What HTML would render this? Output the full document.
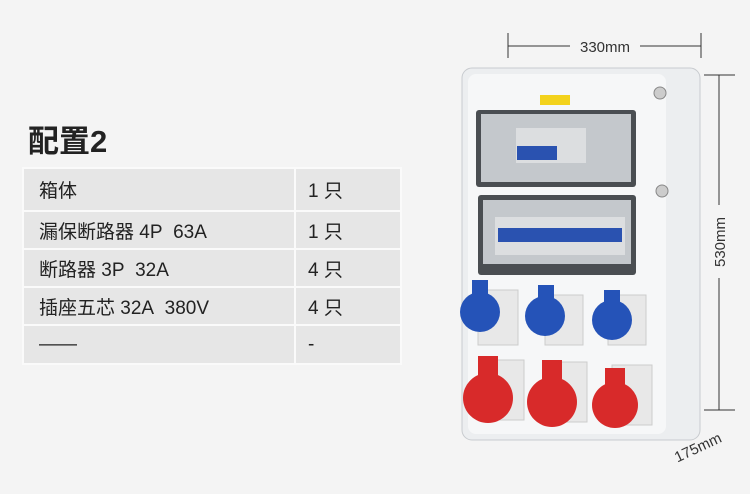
<!DOCTYPE html>
<html><head><meta charset="utf-8"><style>
body{margin:0;width:750px;height:494px;background:#f4f4f4;overflow:hidden;position:relative;font-family:"Liberation Sans","Noto Sans CJK SC",sans-serif;}
.t{position:absolute;left:28px;top:116px;font-size:31px;font-weight:bold;color:#222;}
table{position:absolute;left:22px;top:167px;border-collapse:collapse;}
td{background:#e6e6e6;border:2px solid #fafafa;font-size:19px;color:#222;padding:0 0 0 15px;}
td.b{width:92px;padding-left:12px}
svg{position:absolute;left:0;top:0}
</style></head><body>
<div class="t">配置2</div>
<table>
<tr style="height:43px"><td style="width:255px">箱体</td><td class="b">1 只</td></tr>
<tr style="height:38px"><td>漏保断路器 4P&nbsp; 63A</td><td class="b">1 只</td></tr>
<tr style="height:38px"><td>断路器 3P&nbsp; 32A</td><td class="b">4 只</td></tr>
<tr style="height:38px"><td>插座五芯 32A&nbsp; 380V</td><td class="b">4 只</td></tr>
<tr style="height:39px"><td>——</td><td class="b">-</td></tr>
</table>
<svg width="750" height="494">
<g stroke="#333" stroke-width="1">
<line x1="508" y1="33" x2="508" y2="58"/><line x1="701" y1="33" x2="701" y2="58"/>
<line x1="508" y1="46" x2="570" y2="46"/><line x1="640" y1="46" x2="701" y2="46"/>
<line x1="704" y1="75" x2="735" y2="75"/><line x1="704" y1="410" x2="735" y2="410"/>
<line x1="719" y1="75" x2="719" y2="205"/><line x1="719" y1="278" x2="719" y2="410"/>
<line x1="672" y1="432" x2="700" y2="420"/><line x1="700" y1="412" x2="700" y2="430"/>
</g>
<text x="605" y="52" font-size="15" text-anchor="middle" fill="#333" font-family="Liberation Sans">330mm</text>
<text transform="translate(725,242) rotate(-90)" font-size="15" text-anchor="middle" fill="#333" font-family="Liberation Sans">530mm</text>
<text transform="translate(700,452) rotate(-25)" font-size="15" text-anchor="middle" fill="#333" font-family="Liberation Sans">175mm</text>
<rect x="462" y="68" width="238" height="372" rx="10" fill="#eceef0" stroke="#c8cbcf"/>
<rect x="468" y="74" width="198" height="360" rx="8" fill="#f6f7f8"/>
<rect x="540" y="95" width="30" height="10" fill="#f3d21c"/>
<circle cx="660" cy="93" r="6" fill="#ccc" stroke="#888"/><circle cx="662" cy="191" r="6" fill="#ccc" stroke="#888"/>
<rect x="476" y="110" width="160" height="77" rx="3" fill="#4a4e52"/>
<rect x="481" y="114" width="150" height="68" fill="#c4c8cc"/>
<rect x="516" y="128" width="70" height="35" fill="#dcdee0"/>
<rect x="517" y="146" width="40" height="14" fill="#2a52b0"/>
<rect x="478" y="195" width="158" height="80" rx="3" fill="#4a4e52"/>
<rect x="483" y="200" width="148" height="64" fill="#c4c8cc"/>
<rect x="495" y="217" width="130" height="38" fill="#dcdee0"/>
<rect x="498" y="228" width="124" height="14" fill="#2a52b0"/>
<g fill="#e8e8e8" stroke="#ccc"><rect x="478" y="290" width="40" height="55"/><rect x="545" y="295" width="38" height="50"/><rect x="608" y="295" width="38" height="50"/>
<rect x="482" y="360" width="42" height="60"/><rect x="547" y="362" width="40" height="60"/><rect x="612" y="365" width="40" height="60"/></g>
<g fill="#2553b8"><circle cx="480" cy="312" r="20"/><circle cx="545" cy="316" r="20"/><circle cx="612" cy="320" r="20"/>
<rect x="472" y="280" width="16" height="18"/><rect x="538" y="285" width="16" height="18"/><rect x="604" y="290" width="16" height="18"/></g>
<g fill="#d82a2a"><circle cx="488" cy="398" r="25"/><circle cx="552" cy="402" r="25"/><circle cx="615" cy="405" r="23"/>
<rect x="478" y="356" width="20" height="20"/><rect x="542" y="360" width="20" height="20"/><rect x="605" y="368" width="20" height="18"/></g>
</svg>
</body></html>
